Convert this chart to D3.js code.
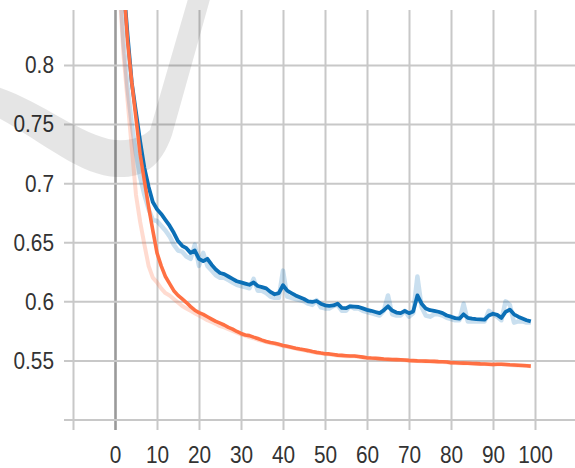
<!DOCTYPE html>
<html>
<head>
<meta charset="utf-8">
<script src="https://cdn.jsdelivr.net/npm/d3@7"></script>
<style>
  html, body { margin: 0; padding: 0; background: #fff; }
  svg { display: block; }
  .axis text { font-family: "Liberation Sans", Arial, sans-serif; font-size: 24.5px; fill: #333; }
  .axis .domain { display: none; }
</style>
</head>
<body>
<div id="chart"></div>
<script>
// epochs 0..99
const epochs = d3.range(0, 100);

const xTicks = [-10, 0, 10, 20, 30, 40, 50, 60, 70, 80, 90, 100, 110];
const yTicks = [0.5, 0.55, 0.6, 0.65, 0.7, 0.75, 0.8];

// blue run (smoothed + raw)
const blueSmooth = [
  0.98, 0.93, 0.87, 0.825, 0.785, 0.76, 0.735, 0.713, 0.697, 0.684,
  0.678, 0.674, 0.669, 0.664, 0.658, 0.651, 0.647, 0.645, 0.641, 0.643,
  0.636, 0.634, 0.636, 0.631, 0.627, 0.624, 0.623, 0.621, 0.619, 0.617,
  0.616, 0.615, 0.614, 0.616, 0.613, 0.612, 0.611, 0.608, 0.606, 0.607,
  0.6136, 0.609, 0.607, 0.605, 0.6035, 0.602, 0.600, 0.5995, 0.6003, 0.598,
  0.5966, 0.5962, 0.5965, 0.598, 0.5945, 0.5942, 0.5958, 0.5955, 0.5952, 0.594,
  0.5928, 0.592, 0.591, 0.590, 0.5925, 0.5958, 0.5922, 0.5905, 0.590, 0.5918,
  0.590, 0.5915, 0.605, 0.598, 0.594, 0.5925, 0.592, 0.5912, 0.590, 0.588,
  0.587, 0.5858, 0.5853, 0.589, 0.586, 0.5853, 0.585, 0.5848, 0.5845, 0.588,
  0.5895, 0.5885, 0.586, 0.591, 0.593, 0.589, 0.587, 0.5855, 0.584, 0.583
];
const blueRaw = [
  0.95, 0.88, 0.82, 0.78, 0.75, 0.725, 0.705, 0.69, 0.678, 0.669,
  0.668, 0.664, 0.66, 0.655, 0.648, 0.643, 0.642, 0.638, 0.636, 0.648,
  0.63, 0.641, 0.63, 0.626, 0.622, 0.62, 0.62, 0.618, 0.616, 0.614,
  0.613, 0.612, 0.611, 0.619, 0.609, 0.609, 0.607, 0.604, 0.603, 0.603,
  0.626, 0.604, 0.603, 0.602, 0.601, 0.60, 0.598, 0.597, 0.601, 0.595,
  0.594, 0.594, 0.596, 0.597, 0.592, 0.592, 0.596, 0.594, 0.594, 0.592,
  0.591, 0.59, 0.589, 0.588, 0.592, 0.605, 0.589, 0.588, 0.588, 0.592,
  0.587, 0.59, 0.621, 0.595, 0.588, 0.587, 0.589, 0.589, 0.588, 0.586,
  0.585, 0.584, 0.584, 0.598, 0.583, 0.583, 0.583, 0.583, 0.583, 0.592,
  0.589, 0.587, 0.584, 0.60, 0.597, 0.582, 0.583, 0.583, 0.582, 0.582
];

// orange run (smoothed + raw)
const orangeSmooth = [
  1.0, 0.93, 0.87, 0.82, 0.785, 0.755, 0.724, 0.702, 0.68, 0.66,
  0.641, 0.63, 0.621, 0.615, 0.609, 0.605, 0.602, 0.599, 0.5955, 0.5925,
  0.5905, 0.589, 0.587, 0.585, 0.583, 0.5815, 0.580, 0.578, 0.5765, 0.5745,
  0.5728, 0.5715, 0.571, 0.5697, 0.5685, 0.5672, 0.566, 0.5652, 0.5645, 0.5636,
  0.5627, 0.562, 0.5612, 0.5603, 0.5596, 0.559, 0.5583, 0.5575, 0.5568, 0.5562,
  0.5557, 0.5555, 0.555, 0.5545, 0.5543, 0.554, 0.5537, 0.5538, 0.5533, 0.5528,
  0.5523, 0.552, 0.5518, 0.5515, 0.5512, 0.551, 0.5508, 0.5507, 0.5505, 0.5503,
  0.550, 0.5498, 0.5496, 0.5495, 0.5494, 0.5493, 0.5492, 0.549, 0.5489, 0.5487,
  0.5481, 0.548, 0.5478, 0.5477, 0.5476, 0.5474, 0.5473, 0.5471, 0.547, 0.5468,
  0.5466, 0.5467, 0.5468, 0.5466, 0.5463, 0.5461, 0.5459, 0.5457, 0.5455, 0.5452
];
const orangeRaw = [
  0.93, 0.87, 0.81, 0.77, 0.73, 0.69, 0.667, 0.648, 0.63, 0.62,
  0.616, 0.611, 0.607, 0.605, 0.602, 0.599, 0.596, 0.594, 0.592, 0.590,
  0.588, 0.586, 0.584, 0.5825, 0.581, 0.579, 0.578, 0.5765, 0.575, 0.5735,
  0.572, 0.571, 0.5698, 0.5688, 0.5675, 0.5665, 0.5655, 0.5648, 0.564, 0.5632,
  0.5622, 0.5615, 0.5608, 0.56, 0.5592, 0.5586, 0.5579, 0.5571, 0.5565, 0.556,
  0.5555, 0.5552, 0.5546, 0.5542, 0.554, 0.5536, 0.5535, 0.5536, 0.553, 0.5525,
  0.5521, 0.5518, 0.5516, 0.5513, 0.551, 0.5508, 0.5506, 0.5505, 0.5503, 0.5501,
  0.5498, 0.5496, 0.5495, 0.5494, 0.5493, 0.5491, 0.549, 0.5489, 0.5487, 0.5485,
  0.548, 0.5479, 0.5477, 0.5476, 0.5475, 0.5473, 0.5472, 0.547, 0.5469, 0.5467,
  0.5465, 0.5467, 0.5467, 0.5465, 0.5462, 0.546, 0.5458, 0.5456, 0.5454, 0.5451
];

const W = 575, H = 468;
const plot = { left: 64, right: 575, top: 10, bottom: 420, tickBottom: 430 };

const x = d3.scaleLinear().domain([-10, 110]).range([73, 577]);
const y = d3.scaleLinear().domain([0.5, 0.8]).range([419.5, 65]);

const svg = d3.select('#chart').append('svg')
  .attr('width', W)
  .attr('height', H);

// vertical grid + x labels
const xAxis = svg.append('g')
  .attr('class', 'axis x-axis')
  .attr('transform', `translate(0,${plot.tickBottom})`)
  .call(d3.axisBottom(x)
    .tickValues(xTicks)
    .tickSize(-(plot.tickBottom - plot.top))
    .tickPadding(15.5)
    .tickFormat(d => (d < 0 || d > 100) ? '' : String(d)));

xAxis.selectAll('.tick line')
  .attr('stroke', d => d === 0 ? '#9a9a9a' : '#c8c8c8')
  .attr('stroke-width', d => d === 0 ? 2.6 : 2);
xAxis.selectAll('.tick text')
  .attr('transform', 'scale(0.85,1)');

// horizontal grid + y labels
const yAxis = svg.append('g')
  .attr('class', 'axis y-axis')
  .attr('transform', `translate(${plot.left},0)`)
  .call(d3.axisLeft(y)
    .tickValues(yTicks)
    .tickSize(-(plot.right - plot.left))
    .tickPadding(11.8)
    .tickFormat(d => d === 0.5 ? '' : String(d)));

yAxis.selectAll('.tick line')
  .attr('stroke', '#c8c8c8')
  .attr('stroke-width', 2);
yAxis.selectAll('.tick text')
  .attr('transform', 'scale(0.85,1)');

// faint check-mark watermark
svg.append('path')
  .attr('d', 'M-5,86 C40,100 80,135 115,140 C135,141 143,136 150,130 L192,-15 L214,-15 L172,135 C160,170 140,178 117,177 C80,176 40,140 -5,116 Z')
  .attr('fill', '#000')
  .attr('fill-opacity', 0.1);

svg.append('clipPath')
  .attr('id', 'plot-clip')
  .append('rect')
  .attr('x', plot.left)
  .attr('y', plot.top)
  .attr('width', plot.right - plot.left)
  .attr('height', plot.bottom - plot.top);

const line = d3.line()
  .x(d => x(d[0]))
  .y(d => y(d[1]));

const series = [
  { values: blueRaw, color: '#0b6fb6', width: 4.5, opacity: 0.22 },
  { values: blueSmooth, color: '#0b6fb6', width: 3.8, opacity: 1 },
  { values: orangeRaw, color: '#ff7043', width: 4, opacity: 0.25 },
  { values: orangeSmooth, color: '#ff7043', width: 3.6, opacity: 1 }
];

const lines = svg.append('g').attr('clip-path', 'url(#plot-clip)');

lines.selectAll('path')
  .data(series)
  .enter()
  .append('path')
  .attr('fill', 'none')
  .attr('stroke', d => d.color)
  .attr('stroke-width', d => d.width)
  .attr('stroke-opacity', d => d.opacity)
  .attr('stroke-linejoin', 'round')
  .attr('d', d => line(epochs.map((e, i) => [e, d.values[i]])));
</script>
</body>
</html>
